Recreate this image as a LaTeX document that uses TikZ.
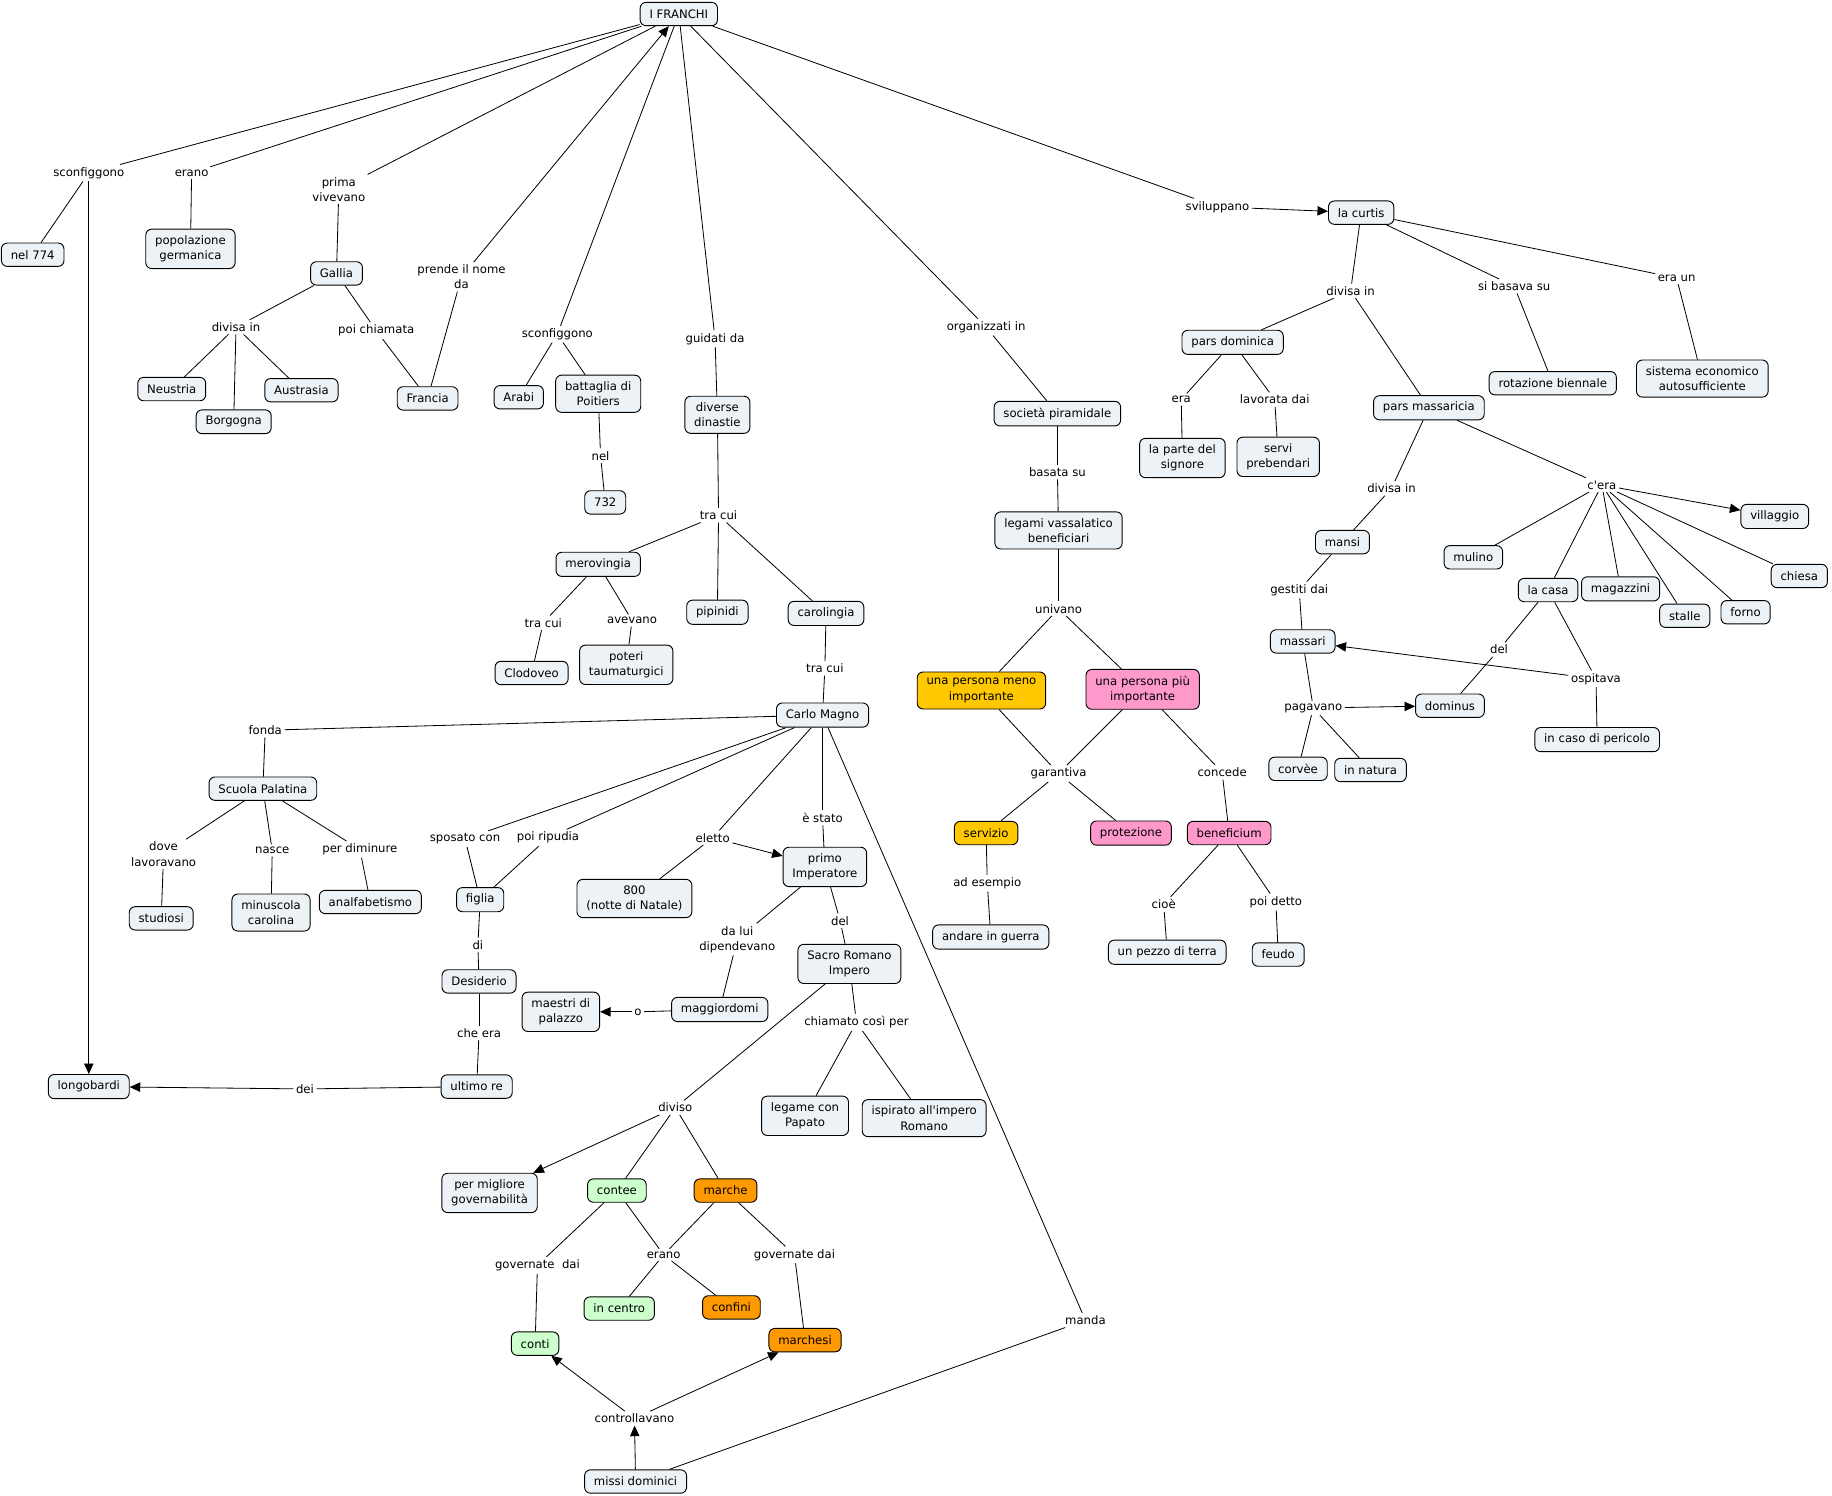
\documentclass[tikz,border=0pt]{standalone}
\usepackage{fontspec}
\setmainfont{DejaVu Sans}
\usetikzlibrary{arrows.meta}
\definecolor{cmapfill}{RGB}{236,242,245}
\definecolor{cmapyellow}{RGB}{255,200,0}
\definecolor{cmappink}{RGB}{255,153,204}
\definecolor{cmapgreen}{RGB}{204,255,204}
\definecolor{cmaporange}{RGB}{255,153,0}
\begin{document}
\begin{tikzpicture}[x=1pt, y=-1pt, line width=0.7pt,
  every node/.style={font=\fontsize{10}{13}\selectfont, align=center},
  concept/.style={draw, rounded corners=5pt, fill=cmapfill, inner xsep=8pt, inner ysep=5.5pt, minimum height=20pt, line width=0.8pt},
  word/.style={inner sep=2pt},
  arrowto/.style={-{Triangle[length=9pt,width=8pt]}}]
\useasboundingbox (0,0) rectangle (1568,1280);
% Concepts, left part
\node[concept] (franchi) at (581,12) {I FRANCHI};
\node[concept] (nel774) at (28,218) {nel 774};
\node[concept] (popgerm) at (163,213) {popolazione\\germanica};
\node[concept] (gallia) at (288,234) {Gallia};
\node[concept] (neustria) at (147,333) {Neustria};
\node[concept] (borgogna) at (200,361) {Borgogna};
\node[concept] (austrasia) at (258,334) {Austrasia};
\node[concept] (francia) at (366,341) {Francia};
\node[concept] (arabi) at (444,340) {Arabi};
\node[concept] (poitiers) at (512,337) {battaglia di\\Poitiers};
\node[concept] (n732) at (518,430) {732};
\node[concept] (dinastie) at (614,355) {diverse\\dinastie};
\node[concept] (merovingia) at (512,483) {merovingia};
\node[concept] (pipinidi) at (614,524) {pipinidi};
\node[concept] (carolingia) at (707,525) {carolingia};
\node[concept] (clodoveo) at (455,576) {Clodoveo};
\node[concept] (taumat) at (536,569) {poteri\\taumaturgici};
\node[concept] (carlo) at (704,612) {Carlo Magno};
\node[concept] (scuola) at (225,675) {Scuola Palatina};
\node[concept] (studiosi) at (138,786) {studiosi};
\node[concept] (minuscola) at (232,781) {minuscola\\carolina};
\node[concept] (analf) at (317,772) {analfabetismo};
\node[concept] (figlia) at (411,770) {figlia};
\node[concept] (n800) at (543,769) {800\\(notte di Natale)};
\node[concept] (primo) at (706,742) {primo\\Imperatore};
\node[concept] (desiderio) at (410,840) {Desiderio};
\node[concept] (sacro) at (727,825) {Sacro Romano\\Impero};
\node[concept] (maggiord) at (616,864) {maggiordomi};
\node[concept] (maestri) at (480,866) {maestri di\\palazzo};
\node[concept] (longob) at (76,930) {longobardi};
\node[concept] (ultimo) at (408,930) {ultimo re};
\node[concept] (legame) at (689,955) {legame con\\Papato};
\node[concept] (ispirato) at (791,957) {ispirato all\textquotesingle impero\\Romano};
\node[concept] (migliore) at (419,1021) {per migliore\\governabilità};
\node[concept, fill=cmapgreen] (contee) at (528,1019) {contee};
\node[concept, fill=cmaporange] (marche) at (621,1019) {marche};
\node[concept, fill=cmapgreen] (incentro) at (530,1120) {in centro};
\node[concept, fill=cmaporange] (confini) at (626,1119) {confini};
\node[concept, fill=cmapgreen] (conti) at (458,1150) {conti};
\node[concept, fill=cmaporange] (marchesi) at (689,1147) {marchesi};
\node[concept] (missi) at (544,1268) {missi dominici};
% Concepts, right part
\node[concept] (curtis) at (1165,182) {la curtis};
\node[concept] (parsdom) at (1055,293) {pars dominica};
\node[concept] (rotazione) at (1329,328) {rotazione biennale};
\node[concept] (sistema) at (1457,324) {sistema economico\\autosufficiente};
\node[concept] (societa) at (905,354) {società piramidale};
\node[concept] (parsmas) at (1223,349) {pars massaricia};
\node[concept] (parte) at (1012,392) {la parte del\\signore};
\node[concept] (servi) at (1094,391) {servi\\prebendari};
\node[concept] (legami) at (906,454) {legami vassalatico\\beneficiari};
\node[concept] (villaggio) at (1519,442) {villaggio};
\node[concept] (mansi) at (1149,464) {mansi};
\node[concept] (mulino) at (1261,477) {mulino};
\node[concept] (chiesa) at (1540,493) {chiesa};
\node[concept] (lacasa) at (1325,505) {la casa};
\node[concept] (magazzini) at (1387,504) {magazzini};
\node[concept] (stalle) at (1442,527) {stalle};
\node[concept] (forno) at (1494,524) {forno};
\node[concept] (massari) at (1115,549) {massari};
\node[concept, fill=cmapyellow] (meno) at (840,591) {una persona meno\\importante};
\node[concept, fill=cmappink] (piu) at (978,590) {una persona più\\importante};
\node[concept] (dominus) at (1241,604) {dominus};
\node[concept] (pericolo) at (1367,633) {in caso di pericolo};
\node[concept] (corvee) at (1111,658) {corvèe};
\node[concept] (natura) at (1173,659) {in natura};
\node[concept, fill=cmapyellow] (servizio) at (844,713) {servizio};
\node[concept, fill=cmappink] (protezione) at (968,713) {protezione};
\node[concept, fill=cmappink] (beneficium) at (1052,713) {beneficium};
\node[concept] (guerra) at (848,802) {andare in guerra};
\node[concept] (pezzo) at (999,815) {un pezzo di terra};
\node[concept] (feudo) at (1094,817) {feudo};
% Linking words
\node[word] (wsconf1) at (76,148) {sconfiggono};
\node[word] (werano1) at (164,148) {erano};
\node[word] (wprima) at (290,162) {prima\\vivevano};
\node[word] (wdivisa1) at (202,280) {divisa in};
\node[word] (wchiamata) at (322,283) {poi chiamata};
\node[word] (wprende) at (395,237) {prende il nome\\da};
\node[word] (wsconf2) at (477,286) {sconfiggono};
\node[word] (wguidati) at (612,290) {guidati da};
\node[word] (wnel) at (514,390) {nel};
\node[word] (wtracui1) at (615,441) {tra cui};
\node[word] (wtracui2) at (465,533) {tra cui};
\node[word] (wavevano) at (541,531) {avevano};
\node[word] (wtracui3) at (706,572) {tra cui};
\node[word] (wfonda) at (227,625) {fonda};
\node[word] (wdove) at (140,731) {dove\\lavoravano};
\node[word] (wnasce) at (233,728) {nasce};
\node[word] (wperdim) at (308,727) {per diminure};
\node[word] (wsposato) at (398,718) {sposato con};
\node[word] (wripudia) at (469,717) {poi ripudia};
\node[word] (weletto) at (610,717) {eletto};
\node[word] (westato) at (704,700) {è stato};
\node[word] (wdel1) at (719,788) {del};
\node[word] (wdalui) at (631,804) {da lui\\dipendevano};
\node[word] (wdi) at (409,809) {di};
\node[word] (wo) at (546,866) {o};
\node[word] (wcheera) at (410,884) {che era};
\node[word] (wchiamato) at (733,875) {chiamato così per};
\node[word] (wdei) at (261,932) {dei};
\node[word] (wdiviso) at (578,948) {diviso};
\node[word] (wgov1) at (460,1083) {governate~~dai};
\node[word] (werano2) at (568,1074) {erano};
\node[word] (wgov2) at (680,1074) {governate dai};
\node[word] (wmanda) at (929,1130) {manda};
\node[word] (wcontroll) at (543,1214) {controllavano};
\node[word] (wsvil) at (1042,177) {sviluppano};
\node[word] (worganizz) at (844,280) {organizzati in};
\node[word] (wdivisa2) at (1156,249) {divisa in};
\node[word] (wbasava) at (1296,245) {si basava su};
\node[word] (weraun) at (1435,238) {era un};
\node[word] (wera) at (1011,342) {era};
\node[word] (wlavorata) at (1091,342) {lavorata dai};
\node[word] (wbasata) at (905,404) {basata su};
\node[word] (wdivisa3) at (1191,418) {divisa in};
\node[word] (wcera) at (1371,415) {c\textquotesingle era};
\node[word] (wgestiti) at (1112,505) {gestiti dai};
\node[word] (wunivano) at (906,521) {univano};
\node[word] (wdel2) at (1283,556) {del};
\node[word] (wospitava) at (1366,581) {ospitava};
\node[word] (wpagavano) at (1124,606) {pagavano};
\node[word] (wgarantiva) at (906,662) {garantiva};
\node[word] (wconcede) at (1046,661) {concede};
\node[word] (wesempio) at (845,756) {ad esempio};
\node[word] (wcioe) at (996,774) {cioè};
\node[word] (wdetto) at (1092,772) {poi detto};
% Connections from I FRANCHI
\draw (franchi) -- (wsconf1);
\draw (wsconf1) -- (nel774);
\draw[arrowto] (wsconf1) -- (longob);
\draw (franchi) -- (werano1);
\draw (werano1) -- (popgerm);
\draw (franchi) -- (wprima);
\draw (wprima) -- (gallia);
\draw (gallia) -- (wdivisa1);
\draw (wdivisa1) -- (neustria);
\draw (wdivisa1) -- (borgogna);
\draw (wdivisa1) -- (austrasia);
\draw (gallia) -- (wchiamata);
\draw (wchiamata) -- (francia);
\draw (francia) -- (wprende);
\draw[arrowto] (wprende) -- (franchi);
\draw (franchi) -- (wsconf2);
\draw (wsconf2) -- (arabi);
\draw (wsconf2) -- (poitiers);
\draw (poitiers) -- (wnel);
\draw (wnel) -- (n732);
\draw (franchi) -- (wguidati);
\draw (wguidati) -- (dinastie);
\draw (dinastie) -- (wtracui1);
\draw (wtracui1) -- (merovingia);
\draw (wtracui1) -- (pipinidi);
\draw (wtracui1) -- (carolingia);
\draw (merovingia) -- (wtracui2);
\draw (wtracui2) -- (clodoveo);
\draw (merovingia) -- (wavevano);
\draw (wavevano) -- (taumat);
\draw (carolingia) -- (wtracui3);
\draw (wtracui3) -- (carlo);
% Carlo Magno
\draw (carlo) -- (wfonda);
\draw (wfonda) -- (scuola);
\draw (scuola) -- (wdove);
\draw (wdove) -- (studiosi);
\draw (scuola) -- (wnasce);
\draw (wnasce) -- (minuscola);
\draw (scuola) -- (wperdim);
\draw (wperdim) -- (analf);
\draw (carlo) -- (wsposato);
\draw (wsposato) -- (figlia);
\draw (carlo) -- (wripudia);
\draw (wripudia) -- (figlia);
\draw (carlo) -- (weletto);
\draw (weletto) -- (n800);
\draw[arrowto] (weletto) -- (primo);
\draw (carlo) -- (westato);
\draw (westato) -- (primo);
\draw (carlo) -- (wmanda);
\draw (wmanda) -- (missi);
\draw (figlia) -- (wdi);
\draw (wdi) -- (desiderio);
\draw (desiderio) -- (wcheera);
\draw (wcheera) -- (ultimo);
\draw (ultimo) -- (wdei);
\draw[arrowto] (wdei) -- (longob);
\draw (primo) -- (wdalui);
\draw (wdalui) -- (maggiord);
\draw (maggiord) -- (wo);
\draw[arrowto] (wo) -- (maestri);
\draw (primo) -- (wdel1);
\draw (wdel1) -- (sacro);
\draw (sacro) -- (wchiamato);
\draw (wchiamato) -- (legame);
\draw (wchiamato) -- (ispirato);
\draw (sacro) -- (wdiviso);
\draw[arrowto] (wdiviso) -- (migliore);
\draw (wdiviso) -- (contee);
\draw (wdiviso) -- (marche);
\draw (contee) -- (wgov1);
\draw (wgov1) -- (conti);
\draw (contee) -- (werano2);
\draw (marche) -- (werano2);
\draw (werano2) -- (incentro);
\draw (werano2) -- (confini);
\draw (marche) -- (wgov2);
\draw (wgov2) -- (marchesi);
\draw[arrowto] (missi) -- (wcontroll);
\draw[arrowto] (wcontroll) -- (conti);
\draw[arrowto] (wcontroll) -- (marchesi);
% la curtis and society
\draw (franchi) -- (wsvil);
\draw[arrowto] (wsvil) -- (curtis);
\draw (franchi) -- (worganizz);
\draw (worganizz) -- (societa);
\draw (curtis) -- (wdivisa2);
\draw (wdivisa2) -- (parsdom);
\draw (wdivisa2) -- (parsmas);
\draw (curtis) -- (wbasava);
\draw (wbasava) -- (rotazione);
\draw (curtis) -- (weraun);
\draw (weraun) -- (sistema);
\draw (parsdom) -- (wera);
\draw (wera) -- (parte);
\draw (parsdom) -- (wlavorata);
\draw (wlavorata) -- (servi);
\draw (societa) -- (wbasata);
\draw (wbasata) -- (legami);
\draw (legami) -- (wunivano);
\draw (wunivano) -- (meno);
\draw (wunivano) -- (piu);
\draw (meno) -- (wgarantiva);
\draw (piu) -- (wgarantiva);
\draw (wgarantiva) -- (servizio);
\draw (wgarantiva) -- (protezione);
\draw (piu) -- (wconcede);
\draw (wconcede) -- (beneficium);
\draw (servizio) -- (wesempio);
\draw (wesempio) -- (guerra);
\draw (beneficium) -- (wcioe);
\draw (wcioe) -- (pezzo);
\draw (beneficium) -- (wdetto);
\draw (wdetto) -- (feudo);
\draw (parsmas) -- (wdivisa3);
\draw (wdivisa3) -- (mansi);
\draw (parsmas) -- (wcera);
\draw (wcera) -- (mulino);
\draw (wcera) -- (lacasa);
\draw (wcera) -- (magazzini);
\draw (wcera) -- (stalle);
\draw (wcera) -- (forno);
\draw (wcera) -- (chiesa);
\draw[arrowto] (wcera) -- (villaggio);
\draw (mansi) -- (wgestiti);
\draw (wgestiti) -- (massari);
\draw (massari) -- (wpagavano);
\draw[arrowto] (wpagavano) -- (dominus);
\draw (wpagavano) -- (corvee);
\draw (wpagavano) -- (natura);
\draw (lacasa) -- (wdel2);
\draw (wdel2) -- (dominus);
\draw (lacasa) -- (wospitava);
\draw[arrowto] (wospitava) -- (massari);
\draw (wospitava) -- (pericolo);
\end{tikzpicture}
\end{document}
